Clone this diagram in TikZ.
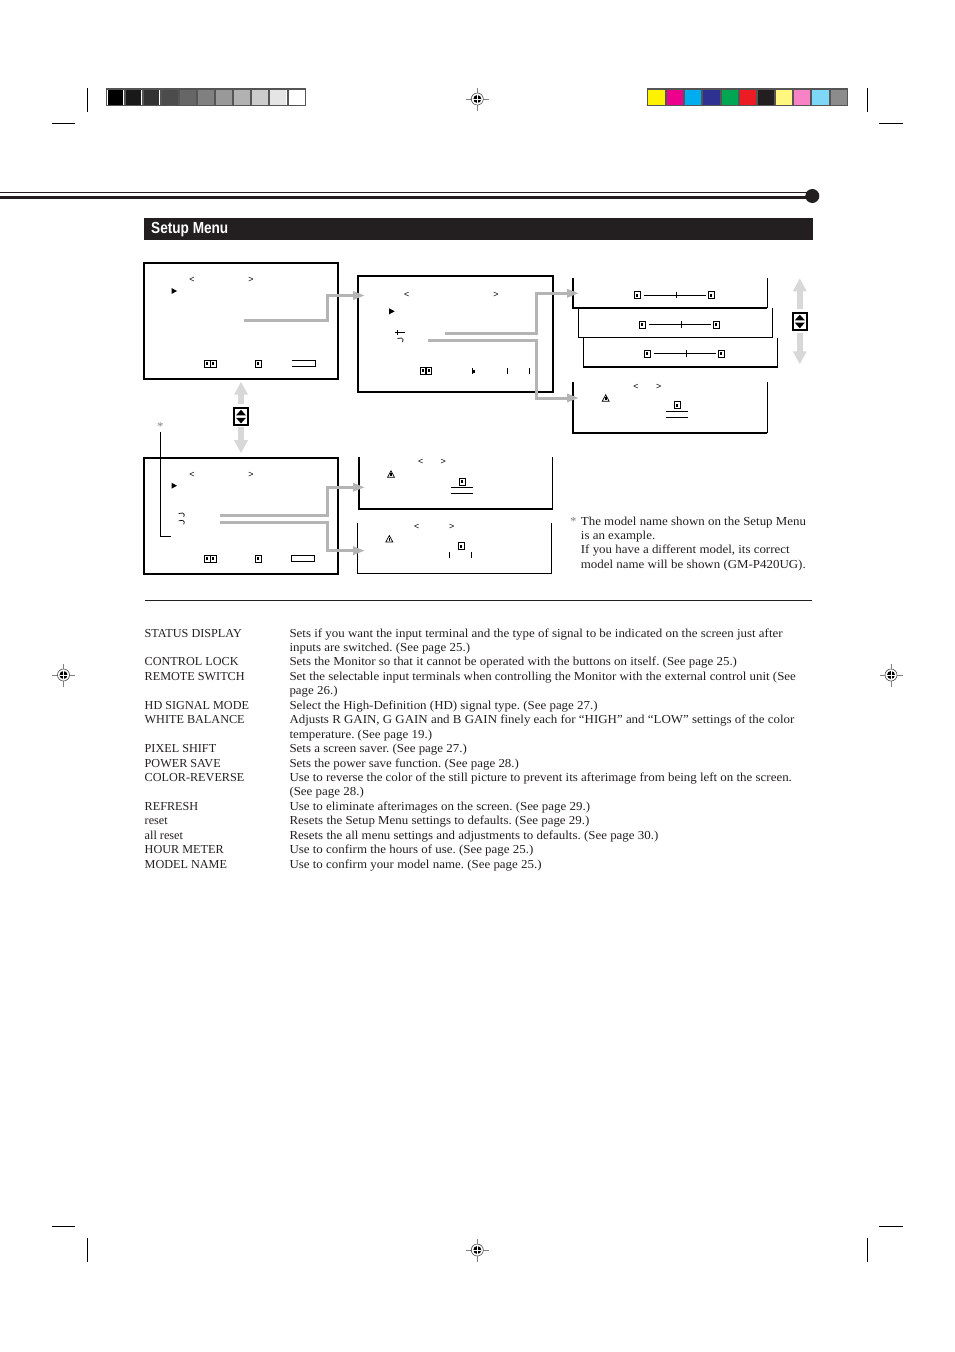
\documentclass[tikz,border=0pt]{standalone}
\usepackage{fontspec}
\setmainfont{Liberation Serif}[FakeStretch=1.06]
\newfontfamily\namefont{Liberation Serif}
\newfontfamily\headfont{Liberation Sans}[FakeStretch=0.85]
\newfontfamily\markfont{Liberation Sans}
\usepackage{xcolor}
\usetikzlibrary{arrows.meta, positioning}
\definecolor{cInk}{HTML}{231F20}
\definecolor{cArrow}{HTML}{B4B4B4}
\definecolor{cUpDown}{HTML}{D8D8D8}
\definecolor{cFrame}{HTML}{555555}
\frenchspacing
\tikzset{
  menuframe/.style={
    draw=black, line width=2pt, outer sep=0pt, inner sep=0pt,
    minimum width=194.5pt, minimum height=116pt,
  },
  panelbox/.style={
    inner sep=0pt, outer sep=0pt,
    minimum width=194pt, minimum height=#1,
  },
  linkarw/.style={
    -{Triangle[length=12pt, width=8pt]}, color=cArrow, line width=3pt,
  },
  updownarw/.style={
    -{Triangle[length=13pt, width=13pt]}, color=cUpDown, line width=6.5pt,
  },
  keybox/.style={
    draw=black, line width=2pt, inner sep=0pt, outer sep=0pt,
    minimum width=14pt, minimum height=17pt,
  },
  chev/.style={font=\markfont\fontsize{9}{9}\selectfont, inner sep=0pt, text=black},
  iteml/.style={anchor=base west, inner sep=0pt, text=cInk,
    font=\fontsize{12.2}{14}\selectfont},
  itemn/.style={iteml, font=\namefont\fontsize{12.2}{14}\selectfont},
  crop/.style={black, line width=0.8pt},
  icon/.style={black, line width=0.7pt},
}
% small marks inside the screens
\newcommand{\cursormark}[1]{\fill[black, shift={(#1)}] (-2.5,-3) -- (3,0) -- (-2.5,3) -- cycle;}
\newcommand{\boxmark}[1]{
  \draw[icon, shift={(#1)}] (-3,-3.5) rectangle (3,3.5);
  \fill[black, shift={(#1)}] (-1,-1.5) rectangle (1,1.5);
}
\newcommand{\warnmark}[1]{
  \draw[icon, shift={(#1)}] (-3.5,3) -- (0,-3.5) -- (3.5,3) -- cycle;
  \fill[black, shift={(#1)}] (-0.8,-1) rectangle (0.8,1.5);
}
\newcommand{\curlmark}[1]{\draw[icon, shift={(#1)}] (-3,-1.5) -- (1,-2) .. controls (3,-2) and (3,1) .. (2,2);}
\newcommand{\regmark}[1]{
  \draw[gray, line width=0.6pt, shift={(#1)}] (-11.5,0) -- (11.5,0) (0,-11.5) -- (0,11.5);
  \draw[black!70, line width=0.6pt, fill=white, shift={(#1)}] (0,0) circle (6);
  \fill[black, shift={(#1)}] (0,0) circle (4);
  \draw[white, line width=0.8pt, shift={(#1)}] (-4,0) -- (4,0) (0,-4) -- (0,4);
}
\newcommand{\keyglyph}[1]{
  \fill[black, shift={(#1)}] (-5,-1.2) -- (0,-6.8) -- (5,-1.2) -- cycle;
  \fill[black, shift={(#1)}] (-5,1.2) -- (0,6.8) -- (5,1.2) -- cycle;
}
\newcommand{\sliderline}[3]{
  \draw[black, line width=0.8pt] (#1,#2) -- (#3,#2);
}
\begin{document}
\begin{tikzpicture}[x=1pt, y=-1pt]
  \useasboundingbox (0,0) rectangle (954,1352);

  % printer marks, top
  \foreach \i/\shade in {0/100,1/90,2/80,3/70,4/60,5/50,6/40,7/30,8/20,9/10,10/0}
    \fill[black!\shade] (107.5+18.1*\i,89.7) rectangle ++(15.7,14.8);
  \draw[cFrame, line width=1.2pt] (106.5,88.9) rectangle (305.8,105.2);
  \foreach \i in {1,...,10}
    \draw[cFrame, line width=2pt] (106.5+18.1*\i,88.9) -- ++(0,16.3);
  \foreach \i/\cell in {0/FFF200,1/EC008C,2/00AEEF,3/2E3192,4/00A651,5/ED1C24,6/231F20,7/FFF77F,8/F782C6,9/7FD7F7,10/8C8C8C}{
    \definecolor{cCell}{HTML}{\cell}
    \fill[cCell] (648+18.1*\i,89) rectangle ++(18.1,16);
  }
  \draw[cFrame, line width=1.2pt] (647.8,88.9) rectangle (847.8,105.2);
  \foreach \i in {1,...,10}
    \draw[cFrame, line width=2pt] (647.8+18.18*\i,88.9) -- ++(0,16.3);

  \draw[crop] (87.3,88) -- (87.3,111.7);
  \draw[crop] (52.3,123.3) -- (75,123.3);
  \draw[crop] (867.3,88) -- (867.3,111.7);
  \draw[crop] (879,123.3) -- (902.7,123.3);
  \draw[crop] (52.3,1226) -- (75,1226);
  \draw[crop] (87.3,1237.7) -- (87.3,1261.7);
  \draw[crop] (879,1226) -- (902.7,1226);
  \draw[crop] (867.3,1237.7) -- (867.3,1261.7);
  \regmark{477.3,99}
  \regmark{477.3,1250}
  \regmark{63.5,675}
  \regmark{891,675}

  % page rule
  \draw[cInk, line width=1pt] (0,192.4) -- (808,192.4);
  \draw[cInk, line width=3.2pt] (0,197.2) -- (808,197.2);
  \fill[cInk] (812.3,196) circle (7);

  % title bar
  \fill[cInk] (144,218) rectangle (813,240);
  \node[anchor=base west, inner sep=0pt, text=white, font=\headfont\bfseries\fontsize{16}{16}\selectfont]
    (title) at (151,233.5) {Setup Menu};

  % screens with a full frame
  \node[menuframe] (menuA) at (241,321) {};
  \node[menuframe] (menuB) at (455.7,334) {};
  \node[menuframe] (menuC) at (241,515.7) {};

  % screens that are open at the top
  \node[panelbox=30pt]   (gainR)  at (670.3,293.2) {};
  \node[panelbox=29.4pt] (gainG)  at (675.3,323) {};
  \node[panelbox=28.7pt] (gainB)  at (680.3,352.7) {};
  \node[panelbox=51.6pt] (modelA) at (670.3,407.5) {};
  \node[panelbox=51.7pt] (modelB) at (455.7,483.1) {};
  \node[panelbox=50.6pt] (modelC) at (454,548) {};
  \draw[black, line width=1.8pt] (gainR.north west) -- (gainR.south west) -- (gainR.south east);
  \draw[black, line width=0.9pt] (gainR.south east) -- (gainR.north east);
  \draw[black, line width=0.9pt] (gainG.north west) -- (gainG.south west) -- (gainG.south east);
  \draw[black, line width=1.6pt] (gainG.south east) -- (gainG.north east);
  \draw[black, line width=0.9pt] (gainB.north west) -- (gainB.south west);
  \draw[black, line width=1.6pt] (gainB.south west) -- (gainB.south east) -- (gainB.north east);
  \draw[black, line width=1.8pt] (modelA.north west) -- (modelA.south west) -- (modelA.south east);
  \draw[black, line width=0.9pt] (modelA.south east) -- (modelA.north east);
  \draw[black, line width=1.8pt] (modelB.north west) -- (modelB.south west) -- (modelB.south east);
  \draw[black, line width=0.9pt] (modelB.south east) -- (modelB.north east);
  \draw[black, line width=0.7pt] (modelC.north west) -- (modelC.south west) -- (modelC.south east) -- (modelC.north east);

  % first screen
  \node[chev] (ltA) at (192,280) {<};
  \node[chev] (gtA) at (251,280) {>};
  \cursormark{174,291}
  \boxmark{207,363.5}
  \boxmark{213,363.5}
  \boxmark{258,363.5}
  \draw[icon] (292,360.3) -- (315,360.3) -- (315,366.7) -- (292,366.7);

  % second screen
  \node[chev] (ltB) at (406.7,295) {<};
  \node[chev] (gtB) at (496,295) {>};
  \cursormark{391.7,311.3}
  \draw[icon] (395,332.3) -- (405,332.3);
  \draw[icon] (397.5,330) -- (397.5,334.5);
  \curlmark{400.5,340}
  \boxmark{423,370.5}
  \boxmark{428.5,370.5}
  \draw[icon] (420,374) -- (432,374);
  \draw[icon] (472,368) -- (472,374);
  \fill[black] (473,369.5) rectangle (475,372.5);
  \draw[icon] (507.3,368) -- (507.3,374);
  \draw[icon] (529.3,368) -- (529.3,374);

  % third screen
  \node[chev] (ltC) at (192,475.3) {<};
  \node[chev] (gtC) at (251,475.3) {>};
  \cursormark{174,485.7}
  \curlmark{181.7,515}
  \curlmark{181.7,522.3}
  \boxmark{207,558.7}
  \boxmark{213,558.7}
  \boxmark{258,558.7}
  \draw[icon] (291,555.3) rectangle (314,561.7);
  \node[text=gray, inner sep=0pt, font=\fontsize{12}{12}\selectfont] (star) at (160.3,427) {*};
  \coordinate (starEnd) at (171,536.3);
  \draw[black, line width=0.7pt] (star.south |- 0,431.7) -- (star.south |- starEnd) -- (starEnd);

  % gain sliders
  \boxmark{637.3,295}
  \sliderline{644}{295}{705.7}
  \draw[icon] (676,291.5) -- (676,298);
  \boxmark{711.3,295}
  \boxmark{642.3,324.5}
  \sliderline{649}{324.5}{710.7}
  \draw[icon] (681,321) -- (681,327.5);
  \boxmark{716,324.5}
  \boxmark{647,353.7}
  \sliderline{654}{353.7}{715.7}
  \draw[icon] (686,350) -- (686,356.7);
  \boxmark{721.3,353.7}

  % model screens
  \node[chev] (ltD) at (636,386.7) {<};
  \node[chev] (gtD) at (658.7,386.7) {>};
  \warnmark{605.7,398.3}
  \boxmark{677.3,405.3}
  \draw[icon] (666,411) -- (688,411);
  \draw[icon] (666,417.3) -- (688,417.3);

  \node[chev] (ltE) at (420.7,462.3) {<};
  \node[chev] (gtE) at (443.3,462.3) {>};
  \warnmark{391,474.3}
  \boxmark{462.3,481.7}
  \draw[icon] (451,487.3) -- (472.7,487.3);
  \draw[icon] (451,493.7) -- (472.7,493.7);

  \node[chev] (ltF) at (416.7,527) {<};
  \node[chev] (gtF) at (451.7,527) {>};
  \warnmark{389.3,539}
  \boxmark{461,546}
  \draw[icon] (449.3,552) -- (449.3,558);
  \draw[icon] (471.7,552) -- (471.7,558);

  % links between the screens
  \coordinate (outA) at (244,320.3);
  \coordinate (kneeA) at (327.3,295.5);
  \coordinate (inB) at (365,295.5);
  \draw[linkarw] (outA) -| (kneeA) -- (inB);

  \coordinate (outB1) at (445,333.3);
  \coordinate (kneeB1) at (536.7,293.3);
  \coordinate (inGain) at (579,293.3);
  \draw[linkarw] (outB1) -| (kneeB1) -- (inGain);

  \coordinate (outB2) at (428.3,340.3);
  \coordinate (kneeB2) at (536.7,398);
  \coordinate (inModelA) at (579,398);
  \draw[linkarw] (outB2) -| (kneeB2) -- (inModelA);

  \coordinate (outC1) at (220,515.3);
  \coordinate (kneeC1) at (327.3,487.3);
  \coordinate (inModelB) at (365,487.3);
  \draw[linkarw] (outC1) -| (kneeC1) -- (inModelB);

  \coordinate (outC2) at (220,522.7);
  \coordinate (kneeC2) at (327.3,550.7);
  \coordinate (inModelC) at (365,550.7);
  \draw[linkarw] (outC2) -| (kneeC2) -- (inModelC);

  % up and down keys
  \node[keybox] (keyA) at (241,416.6) {};
  \keyglyph{241,416.6}
  \draw[updownarw, shorten <=4pt, shorten >=2.7pt] (keyA) -- (menuA);
  \draw[updownarw, shorten <=2pt, shorten >=4.5pt] (keyA) -- (menuC);

  \node[keybox] (keyB) at (799.8,321.5) {};
  \keyglyph{799.8,321.5}
  \coordinate (tipUp) at (799.8,278.3);
  \coordinate (tipDown) at (799.8,364.3);
  \draw[updownarw, shorten <=4pt] (keyB) -- (tipUp);
  \draw[updownarw, shorten <=3pt] (keyB) -- (tipDown);

  % footnote
  \node[iteml, text=gray] (noteStar) at (570,525) {*};
  \node[iteml] (noteA) at (580.7,525) {The model name shown on the Setup Menu};
  \node[iteml] (noteB) at (580.7,539.3) {is an example.};
  \node[iteml] (noteC) at (580.7,553.7) {If you have a different model, its correct};
  \node[iteml] (noteD) at (580.7,568) {model name will be shown (GM-P420UG).};

  \coordinate (ruleL) at (145,600.5);
  \coordinate (ruleR) at (812,600.5);
  \draw[cInk, line width=0.8pt] (ruleL) -- (ruleR);

  % item names
  \node[itemn] (nStatus)  at (144.5,637) {STATUS DISPLAY};
  \node[itemn] (nLock)    at (144.5,665.9) {CONTROL LOCK};
  \node[itemn] (nRemote)  at (144.5,680.3) {REMOTE SWITCH};
  \node[itemn] (nHd)      at (144.5,709.2) {HD SIGNAL MODE};
  \node[itemn] (nWhite)   at (144.5,723.6) {WHITE BALANCE};
  \node[itemn] (nPixel)   at (144.5,752.5) {PIXEL SHIFT};
  \node[itemn] (nPower)   at (144.5,767) {POWER SAVE};
  \node[itemn] (nColor)   at (144.5,781.4) {COLOR-REVERSE};
  \node[itemn] (nRefresh) at (144.5,810.3) {REFRESH};
  \node[itemn] (nReset)   at (144.5,824.7) {reset};
  \node[itemn] (nAll)     at (144.5,839.2) {all reset};
  \node[itemn] (nHour)    at (144.5,853.6) {HOUR METER};
  \node[itemn] (nModel)   at (144.5,868) {MODEL NAME};

  % item texts
  \node[iteml] (dStatusA)  at (289.3,637) {Sets if you want the input terminal and the type of signal to be indicated on the screen just after};
  \node[iteml] (dStatusB)  at (289.3,651.4) {inputs are switched. (See page 25.)};
  \node[iteml] (dLock)     at (289.3,665.9) {Sets the Monitor so that it cannot be operated with the buttons on itself. (See page 25.)};
  \node[iteml] (dRemoteA)  at (289.3,680.3) {Set the selectable input terminals when controlling the Monitor with the external control unit (See};
  \node[iteml] (dRemoteB)  at (289.3,694.8) {page 26.)};
  \node[iteml] (dHd)       at (289.3,709.2) {Select the High-Definition (HD) signal type. (See page 27.)};
  \node[iteml] (dWhiteA)   at (289.3,723.6) {Adjusts R GAIN, G GAIN and B GAIN finely each for “HIGH” and “LOW” settings of the color};
  \node[iteml] (dWhiteB)   at (289.3,738.1) {temperature. (See page 19.)};
  \node[iteml] (dPixel)    at (289.3,752.5) {Sets a screen saver. (See page 27.)};
  \node[iteml] (dPower)    at (289.3,767) {Sets the power save function. (See page 28.)};
  \node[iteml] (dColorA)   at (289.3,781.4) {Use to reverse the color of the still picture to prevent its afterimage from being left on the screen.};
  \node[iteml] (dColorB)   at (289.3,795.8) {(See page 28.)};
  \node[iteml] (dRefresh)  at (289.3,810.3) {Use to eliminate afterimages on the screen. (See page 29.)};
  \node[iteml] (dReset)    at (289.3,824.7) {Resets the Setup Menu settings to defaults. (See page 29.)};
  \node[iteml] (dAll)      at (289.3,839.2) {Resets the all menu settings and adjustments to defaults. (See page 30.)};
  \node[iteml] (dHour)     at (289.3,853.6) {Use to confirm the hours of use. (See page 25.)};
  \node[iteml] (dModel)    at (289.3,868) {Use to confirm your model name. (See page 25.)};

\end{tikzpicture}
\end{document}
